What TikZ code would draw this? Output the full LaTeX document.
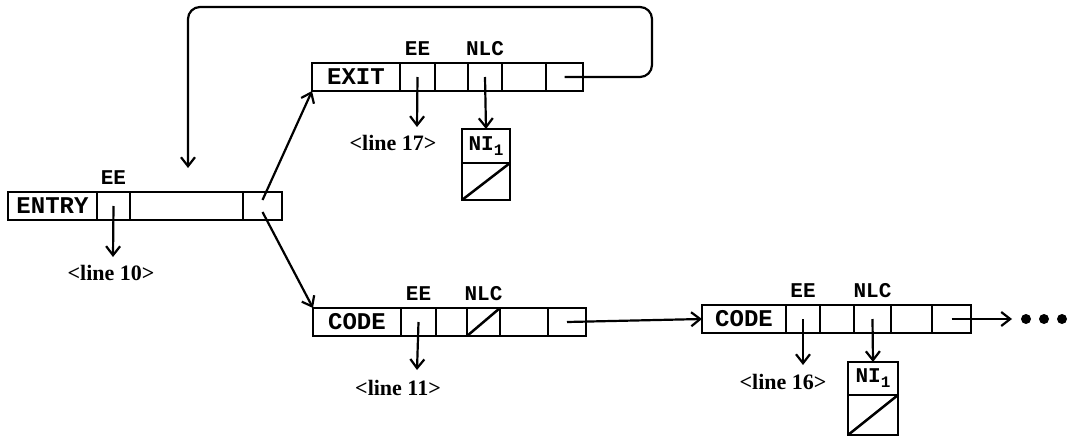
\documentclass[tikz,border=0pt]{standalone}
\usepackage{fontspec}
\usetikzlibrary{positioning,arrows.meta}
\newfontfamily\recfont{Liberation Mono}
\newfontfamily\linefont{Liberation Serif}

\tikzset{
  cell/.style={draw, line width=2.5pt, minimum height=28pt, inner sep=0pt, outer sep=0pt,
    font=\recfont\bfseries\fontsize{24}{24}\selectfont},
  field/.style={font=\recfont\bfseries\fontsize{21}{21}\selectfont, inner sep=0pt},
  lineref/.style={font=\linefont\bfseries\fontsize{22}{22}\selectfont, inner sep=0pt},
  ptr/.style={line width=2.2pt, -{Straight Barb[length=9pt,width=14pt]}},
  nil/.style={line width=2.5pt}
}

\begin{document}
\begin{tikzpicture}[x=1pt,y=-1pt]
\useasboundingbox (0,0) rectangle (1069,439);

% Entry
\node[cell, minimum width=89pt, anchor=north west] (en-a) at (8,192) {ENTRY};
\node[cell, minimum width=33pt, right=0pt of en-a] (en-ee) {};
\node[cell, minimum width=113pt, right=0pt of en-ee] (en-c) {};
\node[cell, minimum width=39pt, right=0pt of en-c] (en-pt) {};
\node[field, above=7pt of en-ee] (en-eel) {EE};
\coordinate (en-end) at (113,257);
\node[lineref] (en-l) at (111,273) {<line 10>};
\draw[ptr] (en-ee.center) -- (en-end);

% Exit
\node[cell, minimum width=88pt, anchor=north west] (ex-a) at (312,63) {EXIT};
\node[cell, minimum width=35pt, right=0pt of ex-a] (ex-ee) {};
\node[cell, minimum width=33pt, right=0pt of ex-ee] (ex-c) {};
\node[cell, minimum width=34pt, right=0pt of ex-c] (ex-nlc) {};
\node[cell, minimum width=44pt, right=0pt of ex-nlc] (ex-e) {};
\node[cell, minimum width=37pt, right=0pt of ex-e] (ex-pt) {};
\node[field, above=7pt of ex-ee] (ex-eel) {EE};
\node[field, above=7pt of ex-nlc] (ex-nlcl) {NLC};
\coordinate (ex-end) at (417,127);
\node[lineref] (ex-l) at (393,143) {<line 17>};
\draw[ptr] (ex-ee.center) -- (ex-end);
\node[cell, font=\recfont\bfseries\fontsize{21}{21}\selectfont, minimum width=48pt, minimum height=34pt,
  anchor=north west] (ex-ni) at (462,129) {NI\raisebox{-5pt}{\fontsize{16}{16}\selectfont 1}};
\node[cell, minimum width=48pt, minimum height=37pt, below=0pt of ex-ni] (ex-nil) {};
\draw[nil] (ex-nil.south west) -- (ex-nil.north east);
\draw[ptr] (ex-nlc.center) -- (ex-ni.north);

% Code (first)
\node[cell, minimum width=88pt, anchor=north west] (c1-a) at (313,308) {CODE};
\node[cell, minimum width=35pt, right=0pt of c1-a] (c1-ee) {};
\node[cell, minimum width=31pt, right=0pt of c1-ee] (c1-c) {};
\node[cell, minimum width=33pt, right=0pt of c1-c] (c1-nlc) {};
\node[cell, minimum width=48pt, right=0pt of c1-nlc] (c1-e) {};
\node[cell, minimum width=38pt, right=0pt of c1-e] (c1-pt) {};
\node[field, above=7pt of c1-ee] (c1-eel) {EE};
\node[field, above=7pt of c1-nlc] (c1-nlcl) {NLC};
\draw[nil] (c1-nlc.south west) -- (c1-nlc.north east);
\coordinate (c1-end) at (417,370);
\node[lineref] (c1-l) at (398,388) {<line 11>};
\draw[ptr] (c1-ee.center) -- (c1-end);

% Code (second)
\node[cell, minimum width=84pt, anchor=north west] (c2-a) at (702,305) {CODE};
\node[cell, minimum width=34pt, right=0pt of c2-a] (c2-ee) {};
\node[cell, minimum width=34pt, right=0pt of c2-ee] (c2-c) {};
\node[cell, minimum width=37pt, right=0pt of c2-c] (c2-nlc) {};
\node[cell, minimum width=41pt, right=0pt of c2-nlc] (c2-e) {};
\node[cell, minimum width=39pt, right=0pt of c2-e] (c2-pt) {};
\node[field, above=7pt of c2-ee] (c2-eel) {EE};
\node[field, above=7pt of c2-nlc] (c2-nlcl) {NLC};
\coordinate (c2-end) at (803,365);
\node[lineref] (c2-l) at (783,382) {<line 16>};
\draw[ptr] (c2-ee.center) -- (c2-end);
\node[cell, font=\recfont\bfseries\fontsize{21}{21}\selectfont, minimum width=50pt, minimum height=33pt,
  anchor=north west] (c2-ni) at (848,362) {NI\raisebox{-5pt}{\fontsize{16}{16}\selectfont 1}};
\node[cell, minimum width=50pt, minimum height=40pt, below=0pt of c2-ni] (c2-nil) {};
\draw[nil] (c2-nil.south west) -- (c2-nil.north east);
\draw[ptr] (c2-nlc.center) -- (c2-ni.north);

% Links
\coordinate (loop-end) at (188,168);
\coordinate (more) at (1012,319);
\draw[ptr] ([yshift=6pt]en-pt.center) -- (ex-a.south west);
\draw[ptr] ([yshift=-6pt]en-pt.center) -- (c1-a.north west);
\draw[ptr, rounded corners=12pt] (ex-pt.center) -| (652,7) -| (loop-end);
\draw[ptr] (c1-pt.center) -- (c2-a.west);
\draw[ptr] (c2-pt.center) -- (more);
\foreach \x in {1026,1044,1062}
  \fill (\x,319) circle (5pt);

\end{tikzpicture}
\end{document}
